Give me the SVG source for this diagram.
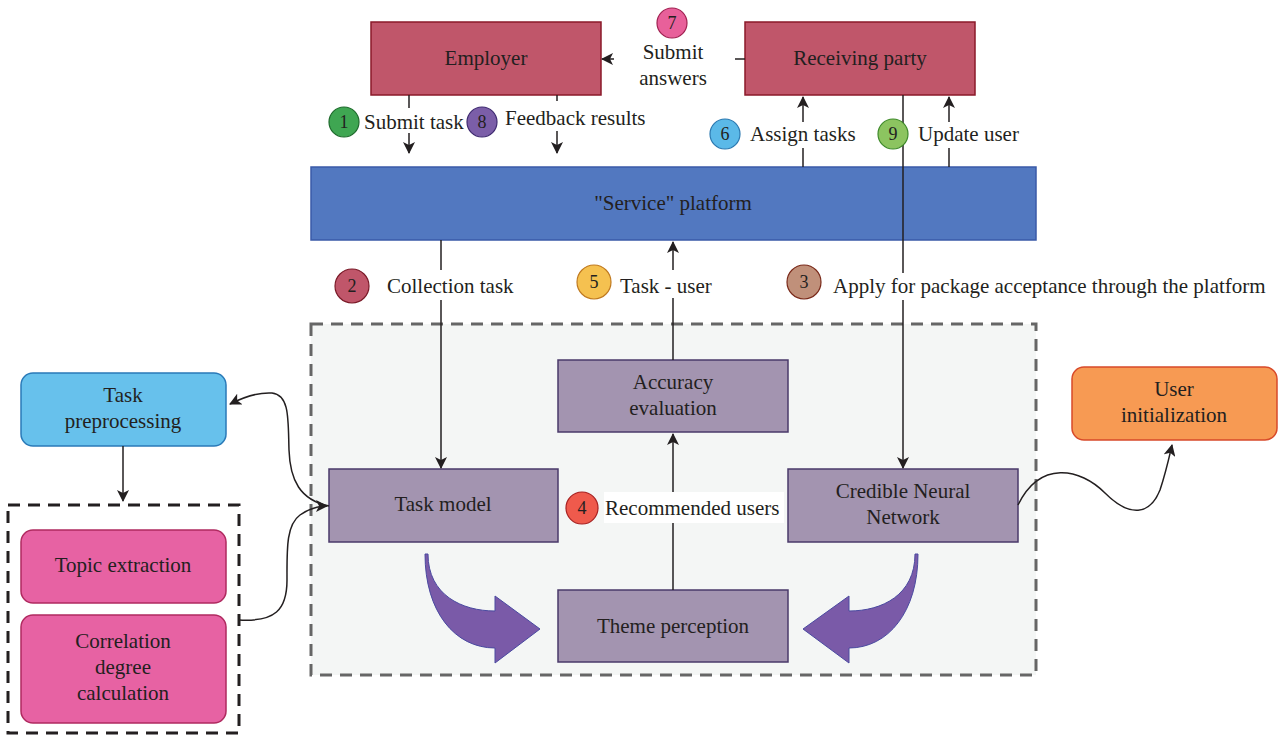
<svg xmlns="http://www.w3.org/2000/svg" width="1281" height="735" viewBox="0 0 1281 735">
<style>
text{font-family:"Liberation Serif","Times New Roman",serif;font-size:21px;fill:#231f20}
.c{text-anchor:middle}
.num{font-size:18px;text-anchor:middle}
.ln{stroke:#231f20;stroke-width:1.5;fill:none}
.pur{fill:#a394b0;stroke:#4a3a6a;stroke-width:1.5}
.red{fill:#c0566a;stroke:#8b1a2a;stroke-width:1.5}
.pink{fill:#e762a3;stroke:#b02a60;stroke-width:1.5}
.big{fill:#7a5aa8;stroke:#4a4aa0;stroke-width:1}
</style>
<defs>
<marker id="ah" viewBox="0 0 12 12" refX="11" refY="6" markerWidth="12" markerHeight="12" markerUnits="userSpaceOnUse" orient="auto">
<path d="M0,0 L12,6 L0,12 L3,6 Z" fill="#231f20"/>
</marker>
</defs>
<rect width="1281" height="735" fill="#fff"/>
<g id="container">
<rect x="311" y="324" width="725" height="351" fill="#f4f6f5" stroke="#666" stroke-width="3" stroke-dasharray="12,8"/>
</g>
<g id="leftgroup">
<rect x="8" y="505" width="231" height="228" fill="none" stroke="#231f20" stroke-width="3" stroke-dasharray="12,8"/>
</g>
<g id="employer"><rect class="red" x="371" y="22" width="230" height="73"/><text class="c" x="486" y="65">Employer</text></g>
<g id="receiving"><rect class="red" x="745" y="22" width="230" height="73"/><text class="c" x="860" y="65">Receiving party</text></g>
<g id="platform"><rect x="311" y="167" width="725" height="73" fill="#5278c0" stroke="#3a5aa8" stroke-width="1.5"/><text class="c" x="673" y="210">"Service" platform</text></g>
<g id="accuracy"><rect class="pur" x="558" y="360" width="230" height="72"/><text class="c" x="673" y="389">Accuracy</text><text class="c" x="673" y="415">evaluation</text></g>
<g id="taskmodel"><rect class="pur" x="329" y="469" width="229" height="73"/><text class="c" x="443" y="511">Task model</text></g>
<g id="cnn"><rect class="pur" x="788" y="469" width="230" height="73"/><text class="c" x="903" y="498">Credible Neural</text><text class="c" x="903" y="524">Network</text></g>
<g id="theme"><rect class="pur" x="558" y="590" width="230" height="72"/><text class="c" x="673" y="633">Theme perception</text></g>
<g id="preproc"><rect x="21" y="373" width="205" height="73" rx="12" fill="#67c1ec" stroke="#2a7ab8" stroke-width="1.5"/><text class="c" x="123" y="402">Task</text><text class="c" x="123" y="428">preprocessing</text></g>
<g id="topic"><rect class="pink" x="21" y="530" width="205" height="73" rx="12"/><text class="c" x="123" y="572">Topic extraction</text></g>
<g id="correlation"><rect class="pink" x="21" y="615" width="205" height="108" rx="12"/><text class="c" x="123" y="648">Correlation</text><text class="c" x="123" y="674">degree</text><text class="c" x="123" y="700">calculation</text></g>
<g id="userinit"><rect x="1072" y="367" width="205" height="73" rx="12" fill="#f79a53" stroke="#d84a2a" stroke-width="1.5"/><text class="c" x="1174" y="396">User</text><text class="c" x="1174" y="422">initialization</text></g>
<g id="connectors">
<line class="ln" x1="409" y1="95" x2="409" y2="108"/>
<line class="ln" x1="409" y1="133" x2="409" y2="153" marker-end="url(#ah)"/>
<line class="ln" x1="557" y1="95" x2="557" y2="101"/>
<line class="ln" x1="557" y1="131" x2="557" y2="153" marker-end="url(#ah)"/>
<line class="ln" x1="745" y1="59" x2="735" y2="59"/>
<line class="ln" x1="614" y1="59" x2="602" y2="59" marker-end="url(#ah)"/>
<line class="ln" x1="803" y1="167" x2="803" y2="148"/>
<line class="ln" x1="803" y1="122" x2="803" y2="97" marker-end="url(#ah)"/>
<line class="ln" x1="949" y1="167" x2="949" y2="148"/>
<line class="ln" x1="949" y1="122" x2="949" y2="97" marker-end="url(#ah)"/>
<line class="ln" x1="903" y1="95" x2="903" y2="273"/>
<line class="ln" x1="903" y1="300" x2="903" y2="468" marker-end="url(#ah)"/>
<line class="ln" x1="441" y1="240" x2="441" y2="270"/>
<line class="ln" x1="441" y1="300" x2="441" y2="468" marker-end="url(#ah)"/>
<line class="ln" x1="673" y1="360" x2="673" y2="298"/>
<line class="ln" x1="673" y1="270" x2="673" y2="242" marker-end="url(#ah)"/>
<line class="ln" x1="673" y1="590" x2="673" y2="434" marker-end="url(#ah)"/>
<line class="ln" x1="123" y1="446" x2="123" y2="501" marker-end="url(#ah)"/>
<path class="ln" d="M329,506 C300,500 290,480 289,450 C288,420 290,395 272,393 C256,392 242,398 230,404" marker-end="url(#ah)"/>
<path class="ln" d="M239,620 C275,622 287,610 287,580 C287,550 286,525 300,515 C310,508 318,506 327,506" marker-end="url(#ah)"/>
<path class="ln" d="M1018,505 C1040,460 1080,468 1105,493 C1130,518 1150,515 1160,490 C1166,472 1169,458 1172,445" marker-end="url(#ah)"/>
<path class="big" d="M425,554 C425,612 455,648 495,648 L495,663 L540,629 L495,596 L495,611 C462,611 428,595 428,554 Z"/>
<path class="big" d="M918,554 C918,612 888,648 849,648 L849,663 L803,629 L849,596 L849,611 C882,611 915,595 915,554 Z"/>
</g>
<g id="labels">
<rect x="604" y="492" width="180" height="31" fill="#fff"/>
<text x="605" y="515">Recommended users</text>
<circle cx="582" cy="508" r="16" fill="#ef5a4c" stroke="#a82020" stroke-width="1.2"/><text class="num" x="582" y="514">4</text>
<circle cx="344" cy="122" r="15" fill="#3fa652" stroke="#1e6a2c" stroke-width="1.2"/><text class="num" x="344" y="128">1</text>
<text x="364" y="129">Submit task</text>
<circle cx="482" cy="122" r="15" fill="#7b5ea8" stroke="#3e2a70" stroke-width="1.2"/><text class="num" x="482" y="128">8</text>
<text x="505" y="125">Feedback results</text>
<circle cx="672" cy="23" r="15" fill="#e8609a" stroke="#a02050" stroke-width="1.2"/><text class="num" x="672" y="29">7</text>
<text class="c" x="673" y="59">Submit</text>
<text class="c" x="673" y="85">answers</text>
<circle cx="725" cy="134" r="15" fill="#5bb9e8" stroke="#2a78b0" stroke-width="1.2"/><text class="num" x="725" y="140">6</text>
<text x="750" y="141">Assign tasks</text>
<circle cx="893" cy="134" r="15" fill="#8cc460" stroke="#3e8a2a" stroke-width="1.2"/><text class="num" x="893" y="140">9</text>
<text x="918" y="141">Update user</text>
<circle cx="352" cy="286" r="17" fill="#c0566a" stroke="#7a1a28" stroke-width="1.2"/><text class="num" x="352" y="292">2</text>
<text x="387" y="293">Collection task</text>
<circle cx="594" cy="282" r="17" fill="#f5c150" stroke="#c07a20" stroke-width="1.2"/><text class="num" x="594" y="288">5</text>
<text x="620" y="293">Task - user</text>
<circle cx="804" cy="282" r="17" fill="#c0907a" stroke="#7a2a1a" stroke-width="1.2"/><text class="num" x="804" y="288">3</text>
<text x="833" y="293">Apply for package acceptance through the platform</text>
</g>
</svg>
